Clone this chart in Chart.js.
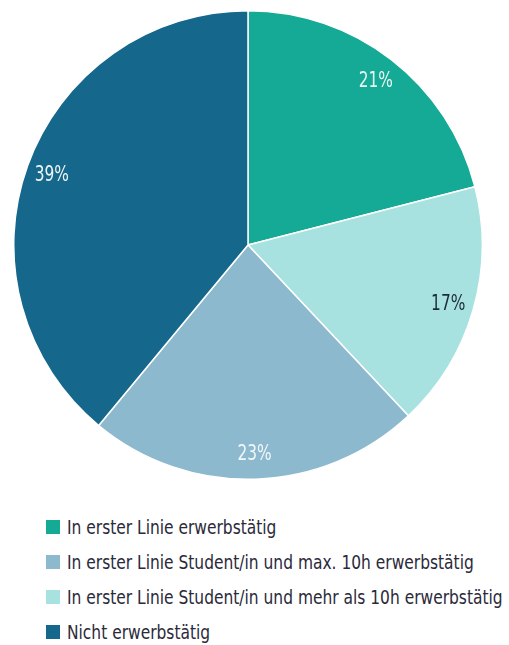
<!DOCTYPE html>
<html>
<head>
<meta charset="utf-8">
<script src="https://cdn.jsdelivr.net/npm/chart.js@4"></script>
<style>
  html, body { margin:0; padding:0; background:#fff; }
  body { width:509px; height:645px; position:relative; overflow:hidden;
         font-family:'DejaVu Sans',sans-serif; }
  #pie-wrap { position:absolute; left:13px; top:10px; width:470px; height:470px; }
  #legend { position:absolute; left:46px; top:509px; }
  .lg-row { display:flex; align-items:center; height:35px; font-size:20px; color:#2a2a3a; white-space:nowrap; }
  .lg-box { width:14px; height:14px; margin-right:7px; flex:none; }
  .lg-txt { display:inline-block; transform-origin:0 50%; }
</style>
</head>
<body>
<div id="pie-wrap"><canvas id="pieChart"></canvas></div>
<div id="legend"></div>
<script>
/* slices, clockwise from 12 o'clock */
const LABELS = [
  'In erster Linie erwerbstätig',
  'In erster Linie Student/in und mehr als 10h erwerbstätig',
  'In erster Linie Student/in und max. 10h erwerbstätig',
  'Nicht erwerbstätig'
];
const VALUES      = [21, 17, 23, 39];
const COLORS      = ['#14aa96', '#a8e2e0', '#8cb9cd', '#15688b'];
const TEXT_COLORS = ['#eaf6f4', '#1c2b38', '#f2f7f9', '#eef4f7'];
const LEGEND_ORDER = [0, 2, 1, 3];

// no condensed face installed, so squeeze text horizontally
const LABEL_SQUEEZE = 0.7;
const LEGEND_MAX_W = 436;

const sliceLabels = {
  id:'sliceLabels',
  afterDatasetsDraw(chart) {
    const ctx = chart.ctx;
    const meta = chart.getDatasetMeta(0);
    ctx.save();
    ctx.font = "22px 'DejaVu Sans',sans-serif";
    ctx.textAlign = 'center';
    ctx.textBaseline = 'middle';
    meta.data.forEach((arc, i) => {
      const p = arc.getProps(['x','y','startAngle','endAngle','outerRadius'], true);
      const mid = (p.startAngle + p.endAngle) / 2;
      const r = p.outerRadius * 0.89;
      ctx.save();
      ctx.translate(p.x + Math.cos(mid) * r, p.y + Math.sin(mid) * r);
      ctx.scale(LABEL_SQUEEZE, 1);
      ctx.fillStyle = TEXT_COLORS[i];
      ctx.fillText(VALUES[i] + '%', 0, 1);
      ctx.restore();
    });
    ctx.restore();
  }
};

function buildPie() {
  const ctx = document.getElementById('pieChart').getContext('2d');
  new Chart(ctx, {
    type:'pie',
    data:{ labels:LABELS, datasets:[{ data:VALUES, backgroundColor:COLORS, borderColor:'#ffffff', borderWidth:1.5, hoverOffset:0 }] },
    options:{
      responsive:true, maintainAspectRatio:false, animation:false,
      layout:{ padding:0 },
      events:[],
      plugins:{ legend:{display:false}, tooltip:{enabled:false} }
    },
    plugins:[sliceLabels]
  });
}

function renderLegend() {
  const el = document.getElementById('legend');
  el.innerHTML = LEGEND_ORDER.map(i =>
    `<div class="lg-row"><span class="lg-box" style="background:${COLORS[i]}"></span><span class="lg-txt">${LABELS[i]}</span></div>`
  ).join('');
  const spans = [...el.querySelectorAll('.lg-txt')];
  const widest = Math.max(...spans.map(s => s.offsetWidth));
  const k = LEGEND_MAX_W / widest;
  spans.forEach(s => { s.style.transform = `scaleX(${k})`; });
}

window.addEventListener('DOMContentLoaded', () => {
  buildPie();
  renderLegend();
});
</script>
</body>
</html>
